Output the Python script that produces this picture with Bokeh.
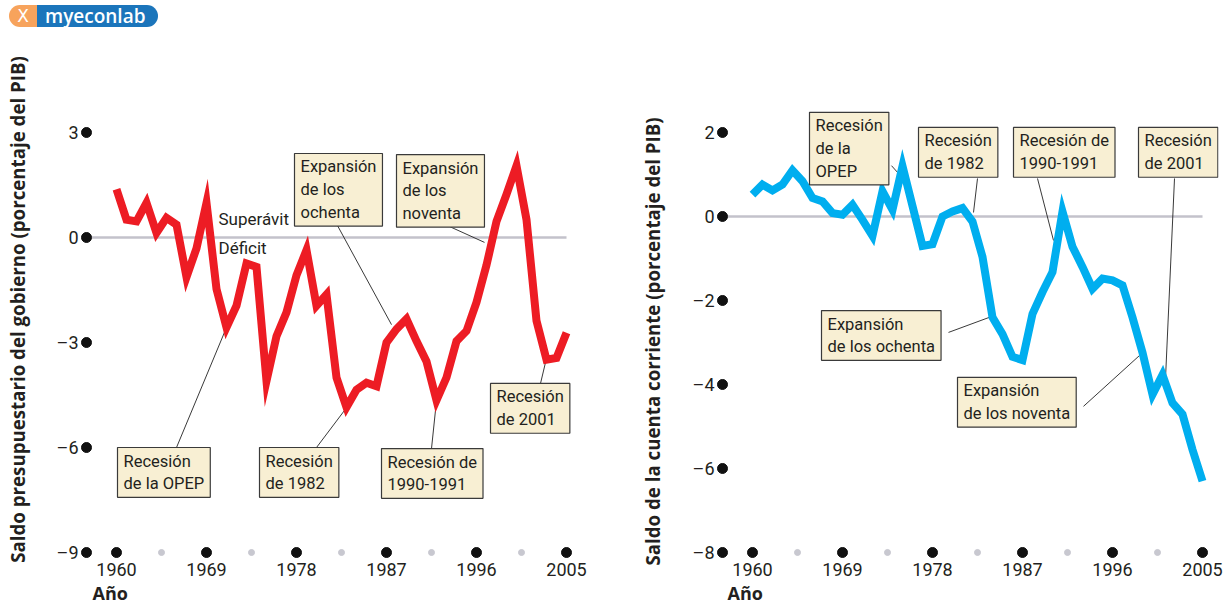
from bokeh.plotting import figure
from bokeh.models import FixedTicker, Label, Title, Div, Range1d
from bokeh.layouts import column, row
from bokeh.embed import file_html
from bokeh.resources import INLINE

# ---------------- data ----------------
years = list(range(1960, 2006))
budget_balance = [1.38, 0.51, 0.46, 0.99, 0.13, 0.56, 0.37, -1.13, -0.31, 0.99,
                  -1.47, -2.57, -1.95, -0.74, -0.84, -4.10, -2.82, -2.14, -1.08, -0.36,
                  -1.95, -1.63, -4.00, -4.85, -4.35, -4.15, -4.25, -3.00, -2.62, -2.33,
                  -2.96, -3.54, -4.65, -4.00, -2.96, -2.67, -1.85, -0.79, 0.46, 1.23,
                  2.05, 0.51, -2.38, -3.49, -3.44, -2.72]
current_account = [0.52, 0.76, 0.62, 0.76, 1.10, 0.84, 0.44, 0.36, 0.08, 0.04,
                   0.28, -0.08, -0.46, 0.60, 0.16, 1.20, 0.25, -0.70, -0.66, 0.00,
                   0.12, 0.20, -0.12, -0.96, -2.40, -2.80, -3.34, -3.42, -2.32, -1.80,
                   -1.32, 0.12, -0.72, -1.20, -1.72, -1.48, -1.52, -1.64, -2.40, -3.24,
                   -4.24, -3.77, -4.44, -4.71, -5.55, -6.30]

x_ticks = [1960, 1969, 1978, 1987, 1996, 2005]
x_minor = [1964.5, 1973.5, 1982.5, 1991.5, 2000.5]
left_y_ticks = [-9, -6, -3, 0, 3]
right_y_ticks = [-8, -6, -4, -2, 0, 2]
axis_year = 1957
zero_line_span = [1957.5, 2005]

left_title = "Saldo presupuestario del gobierno (porcentaje del PIB)"
right_title = "Saldo de la cuenta corriente (porcentaje del PIB)"
x_title = "Año"

# annotation boxes: text, box-left year, box-top value
left_notes = [
    ("Expansión\nde los\nochenta", 1977.8, 2.40),
    ("Expansión\nde los\nnoventa", 1988.0, 2.37),
    ("Recesión\nde la OPEP", 1960.1, -6.00),
    ("Recesión\nde 1982", 1974.3, -6.00),
    ("Recesión de\n1990-1991", 1986.5, -6.03),
    ("Recesión\nde 2001", 1997.4, -4.17),
]
left_leaders = [
    (1982.1, 0.34, 1987.5, -2.49),
    (1993.1, 0.34, 1996.8, -0.14),
    (1966.0, -6.00, 1971.0, -2.57),
    (1980.0, -6.00, 1982.8, -4.94),
    (1991.5, -6.03, 1992.0, -4.66),
    (2002.4, -4.17, 2002.9, -3.57),
]
right_notes = [
    ("Recesión\nde la\nOPEP", 1965.7, 2.48),
    ("Recesión\nde 1982", 1976.6, 2.12),
    ("Recesión de\n1990-1991", 1986.1, 2.12),
    ("Recesión\nde 2001", 1998.6, 2.12),
    ("Expansión\nde los ochenta", 1966.9, -2.24),
    ("Expansión\nde los noventa", 1980.5, -3.83),
]
right_leaders = [
    (1973.9, 1.21, 1974.5, 1.05),
    (1982.5, 0.905, 1982.1, 0.095),
    (1988.5, 0.905, 1990.1, -0.571),
    (2002.2, 0.905, 2001.3, -3.857),
    (1979.6, -2.76, 1983.7, -2.40),
    (1993.1, -4.52, 1998.7, -3.31),
]

TEXT = "#231f20"
FONT = "Roboto"
BOLD_FONT = "Open Sans"
TITLE_SIZE = "18.7px"


def make_panel(series, color, yticks, yrange, xrange, notes, leaders,
               width, mb_left, mb_right, xtitle_offset):
    p = figure(width=width, height=572, output_backend="svg", toolbar_location=None,
               x_range=Range1d(*xrange), y_range=Range1d(*yrange),
               min_border_left=mb_left, min_border_right=mb_right,
               min_border_top=26, min_border_bottom=48)
    p.outline_line_color = None
    p.background_fill_color = "white"
    p.border_fill_color = "white"
    p.grid.visible = False

    for ax in (p.xaxis[0], p.yaxis[0]):
        ax.axis_line_color = None
        ax.major_tick_line_color = None
        ax.minor_tick_line_color = None
        ax.major_tick_out = 0
        ax.major_tick_in = 0
        ax.major_label_text_font = FONT
        ax.major_label_text_font_size = "18px"
        ax.major_label_text_color = TEXT
    p.xaxis.ticker = FixedTicker(ticks=x_ticks)
    p.xaxis.major_label_standoff = 4
    p.yaxis.ticker = FixedTicker(ticks=yticks)
    p.yaxis.major_label_standoff = 2
    p.yaxis.major_label_overrides = {t: ("–%d" % -t if t < 0 else "%d" % t) for t in yticks}

    p.add_layout(Title(text=x_title, align="left", offset=xtitle_offset, standoff=0,
                       text_font=BOLD_FONT, text_font_size="18px", text_font_style="bold",
                       text_color=TEXT), "below")

    # zero reference line
    p.line(zero_line_span, [0, 0], line_color="#c3c2cb", line_width=2.5)

    # axis dots
    ymin = min(yticks)
    p.scatter([axis_year] * len(yticks), yticks, size=10, color="#111111")
    p.scatter(x_ticks, [ymin] * len(x_ticks), size=10, color="#111111")
    p.scatter(x_minor, [ymin] * len(x_minor), size=6, color="#c8c8d0")

    # leader lines
    p.segment([l[0] for l in leaders], [l[1] for l in leaders],
              [l[2] for l in leaders], [l[3] for l in leaders],
              line_color="#222222", line_width=0.9)

    # series
    p.line(years, series, line_color=color, line_width=8, line_join="miter")

    for text, bx, by in notes:
        p.add_layout(Label(x=bx, y=by, text=text, text_align="left", text_baseline="top",
                           text_font=FONT, text_font_size="16.5px", text_color=TEXT,
                           text_line_height=1.2, padding=(6, 4),
                           background_fill_color="#f8efd3",
                           border_line_color="#3a3a3a", border_line_width=1.2))
    return p


p1 = make_panel(budget_balance, "#ed1c24", left_y_ticks, (-9.171, 5.057), (1956.4, 2009.4),
                left_notes, left_leaders, 612, 80, 2, 12)
p1.yaxis.axis_label = left_title
p1.yaxis.axis_label_standoff = 24
p1.yaxis.axis_label_text_font = BOLD_FONT
p1.yaxis.axis_label_text_font_size = TITLE_SIZE
p1.yaxis.axis_label_text_font_style = "bold"
p1.yaxis.axis_label_text_color = TEXT
p1.add_layout(Label(x=1970.2, y=0.54, text="Superávit", text_align="left", text_baseline="middle",
                    text_font=FONT, text_font_size="17px", text_color=TEXT))
p1.add_layout(Label(x=1970.2, y=-0.31, text="Déficit", text_align="left", text_baseline="middle",
                    text_font=FONT, text_font_size="17px", text_color=TEXT))

p2 = make_panel(current_account, "#00aeef", right_y_ticks, (-8.143, 3.714), (1956.4, 2006.6),
                right_notes, right_leaders, 612, 104, 6, 11)
p2.add_layout(Title(text=right_title, align="left", offset=-7, standoff=50,
                    text_font=BOLD_FONT, text_font_size=TITLE_SIZE, text_font_style="bold",
                    text_color=TEXT), "left")

logo = Div(width=1208, height=24, text="""
<div style="display:flex;align-items:center;height:22px;margin-left:4px;">
  <div style="background:#f7a35c;border-radius:11px 0 0 11px;width:28px;height:22px;color:#fff;
              font-family:'DejaVu Sans';font-size:17px;text-align:center;line-height:22px;">X</div>
  <div style="background:#1b75bb;border-radius:0 11px 11px 0;height:22px;padding:0 12px 0 8px;color:#fff;
              font-family:'Open Sans';font-weight:600;font-size:19px;line-height:22px;">myeconlab</div>
</div>""")

layout = column(logo, row(p1, p2))
open("out.html", "w").write(file_html(layout, INLINE))
